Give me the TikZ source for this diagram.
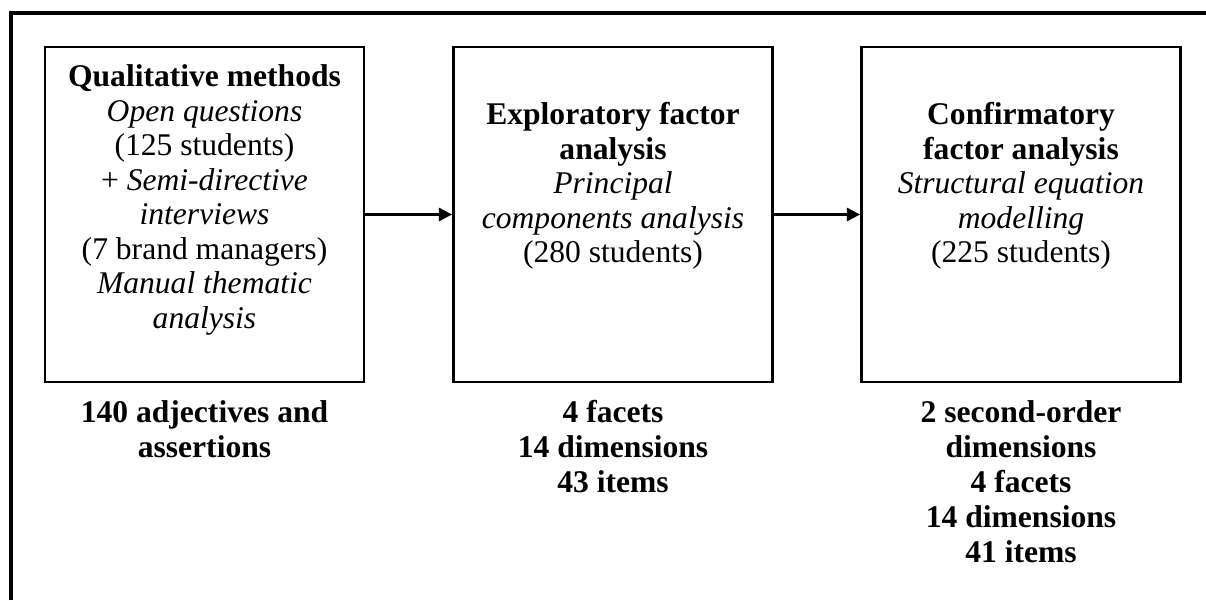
\documentclass[tikz,border=0pt]{standalone}
\usepackage{fontspec}
\setmainfont{Liberation Serif}
\usetikzlibrary{positioning, arrows.meta}

\tikzset{
  stage/.style = {shape = rectangle, draw = black, line width = 1.1pt,
                  minimum width = 121.2pt, minimum height = 127.3pt, inner sep = 0pt},
  stagetxt/.style = {align = center, inner sep = 0pt, font = \fontsize{12}{13.1}\selectfont},
  result/.style = {align = center, inner sep = 0pt, font = \fontsize{12}{13.3}\selectfont\bfseries},
  flow/.style = {-{Triangle[length = 5pt, width = 5pt]}, line width = 0.8pt}
}

\begin{document}
\begin{tikzpicture}[x = 0.38pt, y = -0.38pt]
                    \useasboundingbox (0, 0) rectangle (1206, 600);
                    \draw [line width = 1.3pt] (11, 600) -- (11, 13) -- (1206, 13);

                    \node [stage] (qual) at (204.5, 214.5) {};
                    \node [stage] (efa) at (613, 214.5) {};
                    \node [stage] (cfa) at (1021, 214.5) {};

                    \node [stagetxt] (qualtxt) at (204.5, 200) {\textbf{Qualitative methods}\\ \textit{Open questions}\\ (125 students)\\ + \textit{Semi-directive}\\ \textit{interviews}\\ (7 brand managers)\\ \textit{Manual thematic}\\ \textit{analysis}};
                    \node [stagetxt] (efatxt) at (613, 186) {\textbf{Exploratory factor}\\ \textbf{analysis}\\ \textit{Principal}\\ \textit{components analysis}\\ (280 students)};
                    \node [stagetxt] (cfatxt) at (1021, 186) {\textbf{Confirmatory}\\ \textbf{factor analysis}\\ \textit{Structural equation}\\ \textit{modelling}\\ (225 students)};

                    \node [result] (qualres) at (204.5, 429) {140 adjectives and\\ assertions};
                    \node [result] (efares) at (613, 447) {4 facets\\ 14 dimensions\\ 43 items};
                    \node [result] (cfares) at (1021, 482) {2 second-order\\ dimensions\\ 4 facets\\ 14 dimensions\\ 41 items};

                    \draw [flow] (qual) -- (efa);
                    \draw [flow] (efa) -- (cfa);
                \end{tikzpicture}
\end{document}
